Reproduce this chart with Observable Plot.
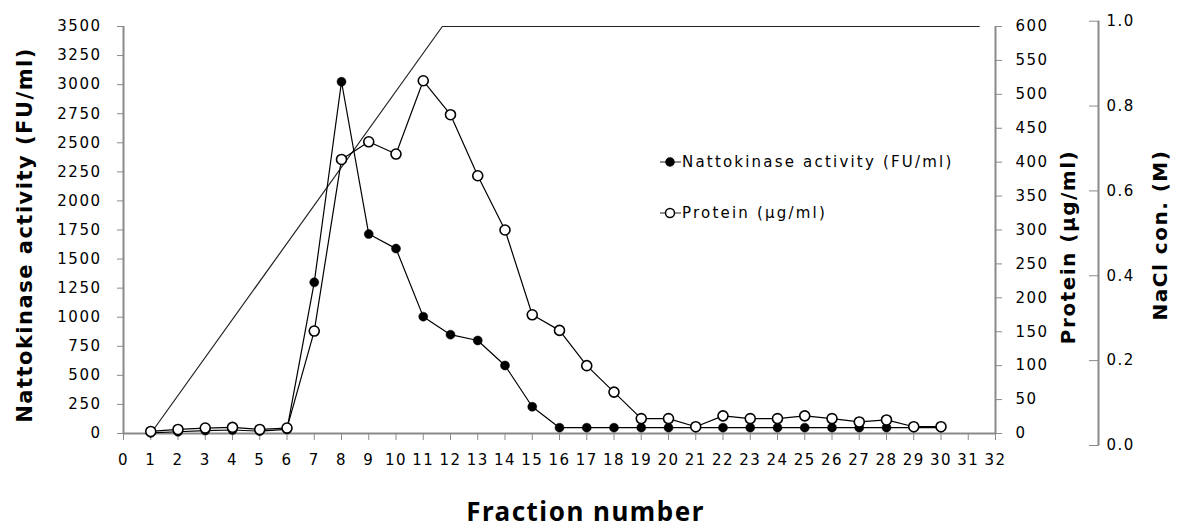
<!DOCTYPE html>
<html>
<head>
<meta charset="utf-8">
<script src="https://cdn.jsdelivr.net/npm/d3@7"></script>
<script src="https://cdn.jsdelivr.net/npm/@observablehq/plot@0.6"></script>
<style>
  html, body { margin: 0; padding: 0; background: #fff; }
  #wrap { position: relative; width: 1177px; height: 529px; overflow: hidden; }
  .leg { position: absolute; font-family: "DejaVu Sans", sans-serif; font-size: 15px; letter-spacing: 2.2px; color: #000; display: flex; align-items: center; white-space: nowrap; }
  .leg svg { display: block; }
</style>
</head>
<body>
<div id="wrap"></div>
<script>
// ---- data ----
const fractions = [1,2,3,4,5,6,7,8,9,10,11,12,13,14,15,16,17,18,19,20,21,22,23,24,25,26,27,28,29,30];
const nattokinase = [5,15,25,30,20,35,1300,3025,1715,1590,1005,850,800,585,230,50,50,50,50,50,50,50,50,50,50,50,50,50,50,50];
const protein = [3,6,8,9,6,8,151,404,430,412,520,470,380,300,175,152,100,61,22,22,10,26,22,22,26,22,17,20,10,10];
const naclFraction = [1, 11.7, 31.4];
const naclM = [0, 1.0, 1.0];
const xTicks = [0,1,2,3,4,5,6,7,8,9,10,11,12,13,14,15,16,17,18,19,20,21,22,23,24,25,26,27,28,29,30,31,32];
const leftTicks = [0,250,500,750,1000,1250,1500,1750,2000,2250,2500,2750,3000,3250,3500];
const proteinTicks = [0,50,100,150,200,250,300,350,400,450,500,550,600];
const naclTicks = [0,0.2,0.4,0.6,0.8,1.0];

// ---- mappings onto the left (activity) scale ----
const kProt = 3500 / 600;                    // protein axis 0..600 shares the frame
const naclLine = v => v * 3500;               // gradient line spans the frame
const naclAxis = v => -103.2 + 3648.8 * v;    // NaCl axis is drawn slightly taller

const natto = fractions.map((f, i) => ({f, v: nattokinase[i]}));
const prot = fractions.map((f, i) => ({f, v: protein[i] * kProt}));
const nacl = naclFraction.map((f, i) => ({f, v: naclLine(naclM[i])}));

const gray = "#8a8a8a";

const chart = Plot.plot({
  width: 1177, height: 529,
  marginLeft: 123, marginRight: 182, marginTop: 26, marginBottom: 96,
  style: {fontFamily: "DejaVu Sans, sans-serif", fontSize: "15px", color: "#000", background: "#fff", overflow: "visible", letterSpacing: "1.5px"},
  x: {domain: [0, 32], axis: null},
  y: {domain: [0, 3500], axis: null},
  marks: [
    // axes
    Plot.axisY({anchor: "left", ticks: leftTicks, tickFormat: d => String(d), tickSize: 6, tickPadding: 16, stroke: gray, color: "#000", label: null}),
    Plot.axisY({anchor: "right", ticks: proteinTicks.map(p => p * kProt), tickFormat: d => String(Math.round(d / kProt)), tickSize: 6, tickPadding: 14, stroke: gray, color: "#000", label: null}),
    Plot.axisY({anchor: "right", dx: 93, ticks: naclTicks.map(naclAxis), tickFormat: d => ((d + 103.2) / 3648.8).toFixed(1), tickSize: 10, tickPadding: 8, stroke: gray, color: "#000", label: null}),
    Plot.axisX({anchor: "bottom", ticks: xTicks, tickFormat: d => String(d), tickSize: 7, tickPadding: 14, stroke: gray, color: "#000", label: null}),
    Plot.ruleX([0], {stroke: gray, strokeWidth: 2}),
    Plot.ruleX([32], {stroke: gray, strokeWidth: 2}),
    Plot.ruleX([32], {y1: naclAxis(0), y2: naclAxis(1), dx: 103, stroke: gray, strokeWidth: 2}),
    Plot.ruleY([0], {stroke: gray, strokeWidth: 2}),
    // axis titles
    Plot.text(["Nattokinase activity (FU/ml)"], {frameAnchor: "left", textAnchor: "middle", rotate: -90, dx: -98, dy: 5, fontWeight: "bold", fontSize: 21, letterSpacing: "0px"}),
    Plot.text(["Protein (µg/ml)"], {frameAnchor: "right", textAnchor: "middle", rotate: -90, dx: 73, dy: 17, fontWeight: "bold", fontSize: 20, letterSpacing: "0px"}),
    Plot.text(["NaCl con. (M)"], {frameAnchor: "right", textAnchor: "middle", rotate: -90, dx: 165, dy: 5, fontWeight: "bold", fontSize: 20, letterSpacing: "0px"}),
    Plot.text(["Fraction number"], {frameAnchor: "bottom", dx: 26, dy: 87, fontWeight: "bold", fontSize: 26, fontFamily: "Noto Sans, sans-serif", letterSpacing: "1px"}),
    // data
    Plot.line(nacl, {x: "f", y: "v", stroke: "#222", strokeWidth: 1.2}),
    Plot.line(natto, {x: "f", y: "v", stroke: "#000", strokeWidth: 1.2}),
    Plot.dot(natto, {x: "f", y: "v", r: 4.5, fill: "#000", stroke: "#000", strokeWidth: 0.5}),
    Plot.line(prot, {x: "f", y: "v", stroke: "#000", strokeWidth: 1.2}),
    Plot.dot(prot, {x: "f", y: "v", r: 5, fill: "#fff", stroke: "#000", strokeWidth: 1.6})
  ]
});

const wrap = document.getElementById("wrap");
wrap.appendChild(chart);

// legend inside plot area
const legendItems = [
  {label: "Nattokinase activity (FU/ml)", fill: "#000", top: 152},
  {label: "Protein (µg/ml)", fill: "#fff", top: 203}
];
for (const it of legendItems) {
  const d = document.createElement("div");
  d.className = "leg";
  d.style.left = "659px";
  d.style.top = it.top + "px";
  d.innerHTML = `<svg width="23" height="20"><line x1="1" y1="10" x2="22" y2="10" stroke="#555" stroke-width="1.3"/><circle cx="11" cy="10" r="${it.fill === "#000" ? 4 : 4.5}" fill="${it.fill}" stroke="#000" stroke-width="1.5"/></svg><span>${it.label}</span>`;
  wrap.appendChild(d);
}
</script>
</body>
</html>
